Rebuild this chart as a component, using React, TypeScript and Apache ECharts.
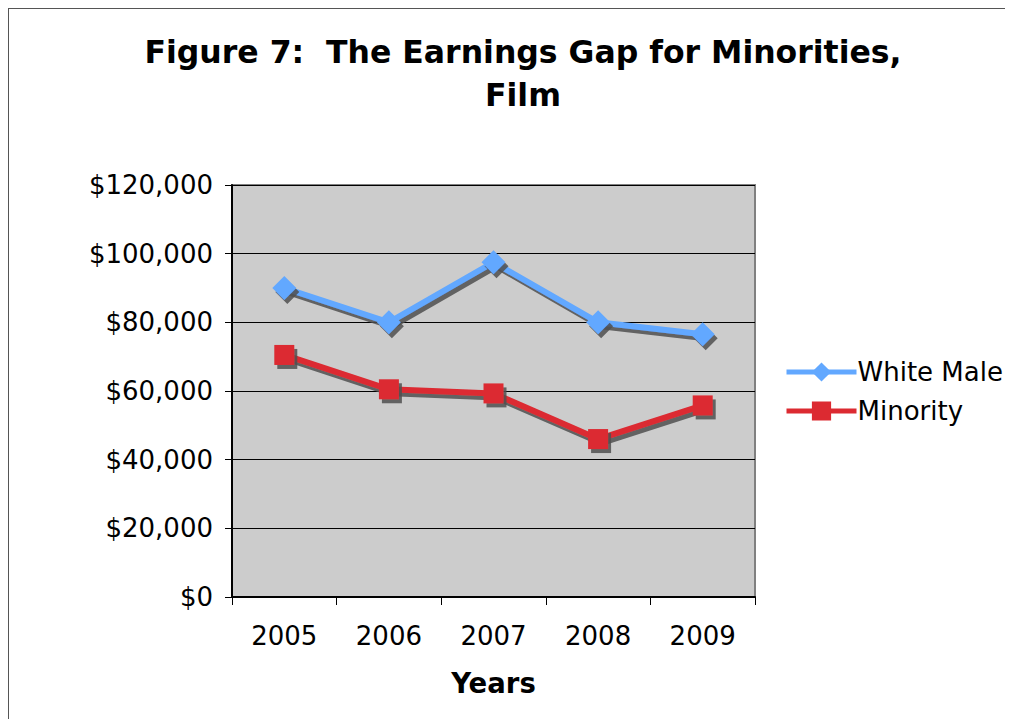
import React, { useEffect, useRef } from "react";
import * as echarts from "echarts";

const years = ["2005", "2006", "2007", "2008", "2009"];
const whiteMale = [90000, 80000, 97500, 80000, 76500];
const minority = [70500, 60500, 59300, 46000, 55800];
const seriesNames = ["White Male", "Minority"];
const titleText = "Figure 7:  The Earnings Gap for Minorities,\nFilm";
const xAxisName = "Years";

function fmt(v: number): string {
  return "$" + String(v).replace(/\B(?=(\d{3})+(?!\d))/g, ",");
}

export default function App() {
  const ref = useRef<HTMLDivElement>(null);
  useEffect(() => {
    document.body.style.overflow = "hidden";
    const chart = echarts.init(ref.current!, null, { renderer: "svg" });
    const font = "'DejaVu Sans', Verdana, sans-serif";
    const shadow = {
      shadowColor: "rgba(80,80,80,0.85)",
      shadowBlur: 1,
      shadowOffsetX: 3,
      shadowOffsetY: 4,
    };
    chart.setOption({
      animation: false,
      backgroundColor: "#ffffff",
      title: {
        text: titleText,
        left: 509,
        textAlign: "center",
        top: 16,
        textStyle: {
          fontFamily: font,
          fontWeight: "bold",
          fontSize: 31.5,
          lineHeight: 43,
          color: "#000",
        },
      },
      legend: {
        orient: "vertical",
        left: 770,
        top: 345,
        itemWidth: 70,
        itemHeight: 24,
        itemGap: 13,
        lineStyle: { width: 5 },
        textStyle: { fontFamily: font, fontSize: 26, lineHeight: 24, color: "#000", padding: [0, 0, 0, -4] },
        data: seriesNames,
      },
      grid: {
        left: 223,
        top: 176,
        width: 523,
        height: 412,
        show: true,
        backgroundColor: "#CCCCCC",
        borderColor: "#808080",
        borderWidth: 2,
        containLabel: false,
      },
      xAxis: {
        type: "category",
        data: years,
        boundaryGap: true,
        name: xAxisName,
        nameLocation: "middle",
        nameGap: 72,
        nameTextStyle: { fontFamily: font, fontWeight: "bold", fontSize: 27.5, color: "#000" },
        axisLine: { lineStyle: { color: "#000", width: 2 } },
        axisTick: { show: true, length: 8, interval: 0, lineStyle: { color: "#000" } },
        axisLabel: { fontFamily: font, fontSize: 26, color: "#000", margin: 26, interval: 0 },
      },
      yAxis: {
        type: "value",
        min: 0,
        max: 120000,
        interval: 20000,
        axisLine: { show: true, lineStyle: { color: "#000", width: 2 } },
        axisTick: { show: true, length: 7, lineStyle: { color: "#000" } },
        axisLabel: {
          fontFamily: font,
          fontSize: 26,
          color: "#000",
          margin: 19,
          formatter: (v: number) => fmt(v),
        },
        splitLine: { show: true, lineStyle: { color: "#000", width: 1 } },
      },
      series: [
        {
          name: seriesNames[0],
          type: "line",
          data: whiteMale,
          symbol: "diamond",
          symbolSize: 24,
          color: "#62A8FF",
          lineStyle: { width: 6, color: "#62A8FF", ...shadow },
          itemStyle: { color: "#62A8FF", ...shadow },
          z: 3,
        },
        {
          name: seriesNames[1],
          type: "line",
          data: minority,
          symbol: "rect",
          symbolSize: 20,
          color: "#DC2A31",
          lineStyle: { width: 6, color: "#DC2A31", ...shadow },
          itemStyle: { color: "#DC2A31", ...shadow },
          z: 2,
        },
      ],
    });
    return () => chart.dispose();
  }, []);
  return (
    <div
      ref={ref}
      style={{
        width: 1005,
        height: 711,
        boxSizing: "border-box",
        borderTop: "1px solid #555",
        borderLeft: "1px solid #555",
      }}
    />
  );
}
